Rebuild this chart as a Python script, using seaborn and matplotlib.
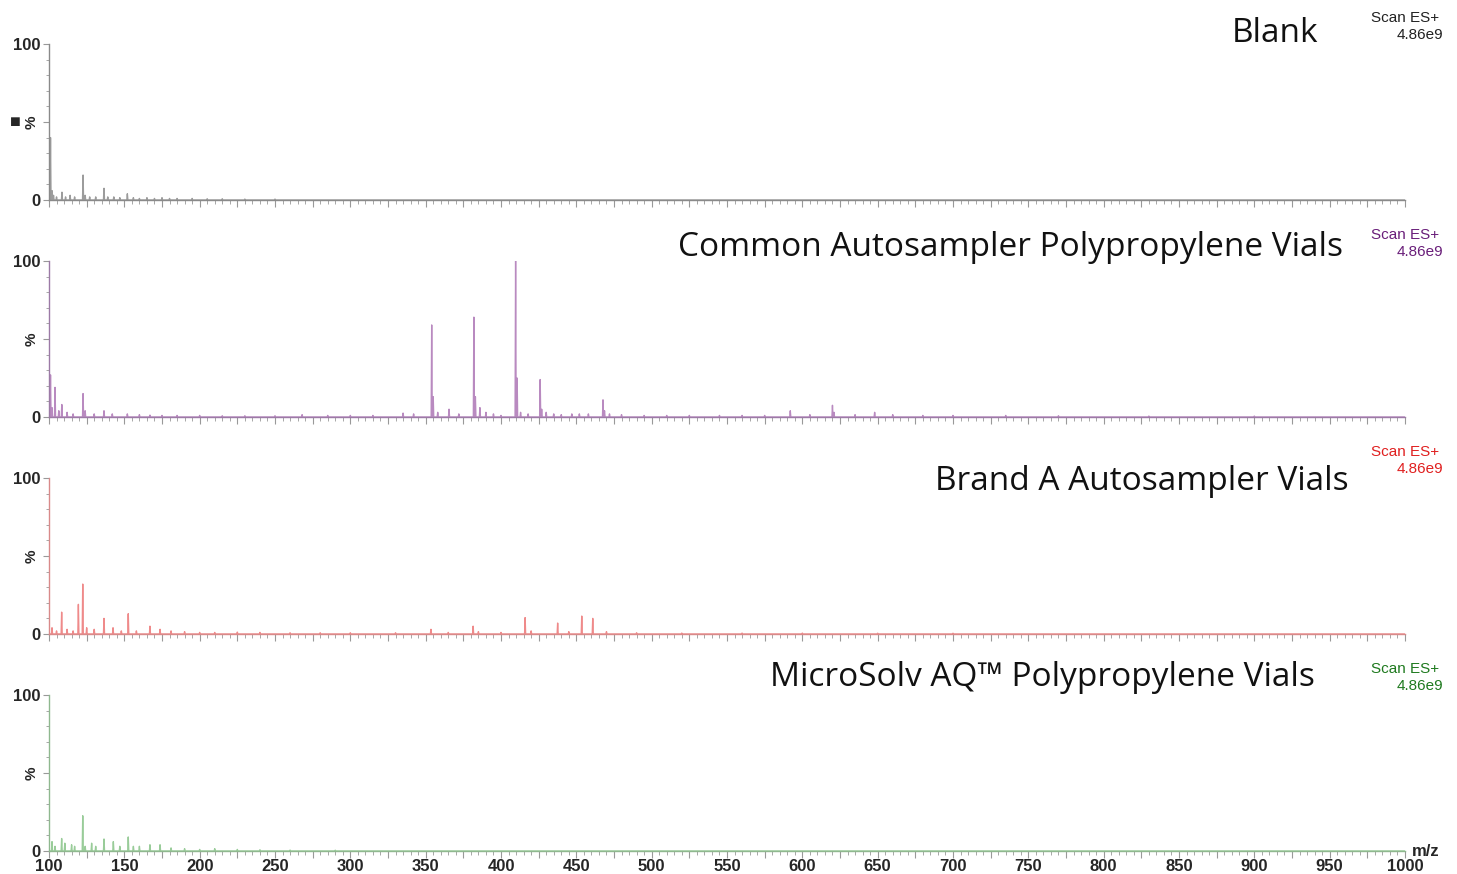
import numpy as np
import pandas as pd
import matplotlib
matplotlib.use("Agg")
import matplotlib.pyplot as plt
import seaborn as sns
from matplotlib.ticker import MultipleLocator, FixedLocator

# spectra: peak m/z and relative intensity (%)
blank_mz = [101, 102, 103, 105, 108.6, 111, 114, 117, 122.6, 124, 127, 131, 136.5, 139, 143, 147,
            152, 156, 160, 165, 170, 175, 180, 185, 195, 205, 215, 230, 250]
blank_int = [40, 6, 3, 2, 5, 2, 3, 2, 16, 3, 2, 2, 7.5, 2, 2, 1.5,
             4, 1.5, 1, 1.5, 1, 1.5, 1, 1, 1, 0.8, 0.8, 0.6, 0.6]

common_mz = [101, 102, 104, 106.5, 108.5, 112, 116, 122.6, 124, 130, 136.5, 142, 152, 160, 167, 175,
             185, 200, 215, 230, 250, 268, 285, 300, 315, 335, 342, 354, 355, 358, 365.5, 372, 382,
             383, 386, 390, 395, 400, 409.7, 410.7, 413, 418, 426, 427, 430, 435, 440, 447, 452, 458,
             467.7, 468.7, 472, 480, 495, 510, 525, 545, 560, 575, 592, 605, 620, 621, 635, 648, 660,
             680, 700, 735, 770, 830, 900]
common_int = [27, 6, 19, 4, 8, 3, 2, 15, 4, 2, 4, 2, 2, 1.5, 1.2, 1,
              1, 1, 0.8, 0.8, 0.8, 1.5, 1, 1, 1, 2.5, 2, 59, 13, 3, 5, 2, 64,
              13, 6, 3, 2, 1, 100, 25, 3, 2, 24, 5, 3, 2, 1.5, 2, 2, 2,
              11, 4, 2, 1.5, 1, 1, 1, 1, 1, 1, 4, 1.5, 7.5, 3, 1.5, 3, 1.5,
              1, 1, 1, 0.8, 0.6, 0.6]

brand_mz = [102, 105, 108.4, 112, 116, 119.5, 122.4, 125, 130, 136.5, 142.5, 148, 152.6, 158, 167,
            173.7, 181, 190, 200, 210, 225, 240, 260, 280, 300, 330, 353.5, 365, 381.5, 385, 400,
            416, 420, 437.6, 445, 453.6, 460.9, 470, 490, 520, 560, 600, 650, 700]
brand_int = [4, 2, 14, 3, 2, 19, 32, 4, 3, 10, 4, 2, 13, 2, 5,
             3, 2, 1.5, 1, 1, 1.2, 1, 0.8, 0.8, 0.8, 0.8, 3, 1, 5, 1.5, 1,
             10.5, 2, 7, 1.5, 11.5, 10, 1.5, 0.8, 0.6, 0.6, 0.6, 0.5, 0.5]

micro_mz = [102, 104, 108.4, 110.5, 115, 117, 122.4, 124, 128.3, 131, 136.5, 142.7, 147, 152.6,
            156, 160, 167, 173.7, 181, 190, 200, 210, 225, 240, 260, 290]
micro_int = [6, 3, 8, 5, 4, 3, 22.6, 3, 5, 3, 7.7, 6, 3, 9,
             3, 3, 4, 4, 2, 1.5, 1, 1.5, 1, 0.8, 0.6, 0.5]

titles = ["Blank", "Common Autosampler Polypropylene Vials",
          "Brand A Autosampler Vials", "MicroSolv AQ\u2122 Polypropylene Vials"]
trace_colors = ["#9c9c9c", "#b98ac0", "#ef8a8a", "#99cc99"]
scan_colors = ["#222222", "#6a1f7a", "#e02020", "#1f7a1f"]
axis_colors = ["#8a8a8a", "#9c7aa6", "#d98a8a", "#8fb88f"]
title_right = [1318, 1343, 1349, 1315]
title_y = [33, 248, 482, 677]
scan_y = [18, 235, 452, 669]
xticks = np.arange(100, 1001, 25)

spectra = [(blank_mz, blank_int), (common_mz, common_int),
           (brand_mz, brand_int), (micro_mz, micro_int)]


def profile(mz, inten):
    rows = [(100.0, 0.0)]
    for m, h in sorted(zip(mz, inten)):
        rows += [(m - 0.35, 0.0), (m, h), (m + 0.35, 0.0)]
    rows.append((1000.0, 0.0))
    return pd.DataFrame(rows, columns=["mz", "pct"])


sns.set_theme(style="ticks")
plt.rcParams['font.family'] = ['Liberation Sans', 'DejaVu Sans']

W, H = 1457, 874
fig = plt.figure(figsize=(W / 100, H / 100), dpi=100)

x0, x1 = 49, 1405
tops = [44, 261, 478, 695]
ph = 156

for i, ((mz, inten), top) in enumerate(zip(spectra, tops)):
    ax = fig.add_axes([x0 / W, 1 - (top + ph) / H, (x1 - x0) / W, ph / H])
    df = profile(mz, inten)
    sns.lineplot(data=df, x="mz", y="pct", ax=ax, color=trace_colors[i], lw=1.0,
                 estimator=None, sort=False)
    ax.set_xlim(100, 1000)
    ax.set_ylim(0, 100)
    ax.set_facecolor("white")
    sns.despine(ax=ax)
    for s in ["left", "bottom"]:
        ax.spines[s].set_color(axis_colors[i])
        ax.spines[s].set_linewidth(1.0)
    ax.xaxis.set_major_locator(FixedLocator(xticks))
    ax.xaxis.set_minor_locator(MultipleLocator(5))
    ax.yaxis.set_major_locator(FixedLocator([0, 50, 100]))
    ax.yaxis.set_minor_locator(MultipleLocator(10))
    ax.tick_params(axis="x", which="major", length=5, width=0.8, color="#999999")
    ax.tick_params(axis="x", which="minor", length=3, width=0.6, color="#999999")
    ax.tick_params(axis="y", which="major", length=4, width=0.8, color="#999999", pad=2)
    ax.tick_params(axis="y", which="minor", length=2.5, width=0.6, color="#999999")
    ax.set_yticklabels(["0", "", "100"], fontsize=12, fontweight="bold")
    ax.set_ylabel("")
    ax.set_xlabel("")
    if i == 3:
        ax.set_xticklabels([str(t) if t % 50 == 0 else "" for t in xticks],
                           fontsize=12, fontweight="bold")
        ax.tick_params(axis="x", which="major", pad=1)
    else:
        ax.set_xticklabels([])
    ax.text(-0.013, 0.5, "%", transform=ax.transAxes, rotation=90, ha="center",
            va="center", fontsize=11, fontweight="bold")
    ax.text(title_right[i] / W, 1 - title_y[i] / H, titles[i], transform=fig.transFigure,
            ha="right", va="center", fontsize=24, family="Open Sans", color="#111111")
    ax.text(1439 / W, 1 - scan_y[i] / H, "Scan ES+", transform=fig.transFigure,
            ha="right", va="center", fontsize=11, color=scan_colors[i])
    ax.text(1443 / W, 1 - (scan_y[i] + 17) / H, "4.86e9", transform=fig.transFigure,
            ha="right", va="center", fontsize=11, color=scan_colors[i])

fig.text(15 / W, 1 - 122 / H, "\u25a0", ha="center", va="center", fontsize=13)
fig.text(1426 / W, 1 - 852 / H, "m/z", ha="center", va="center", fontsize=12,
         fontweight="bold")

fig.savefig("out.png", dpi=100)
